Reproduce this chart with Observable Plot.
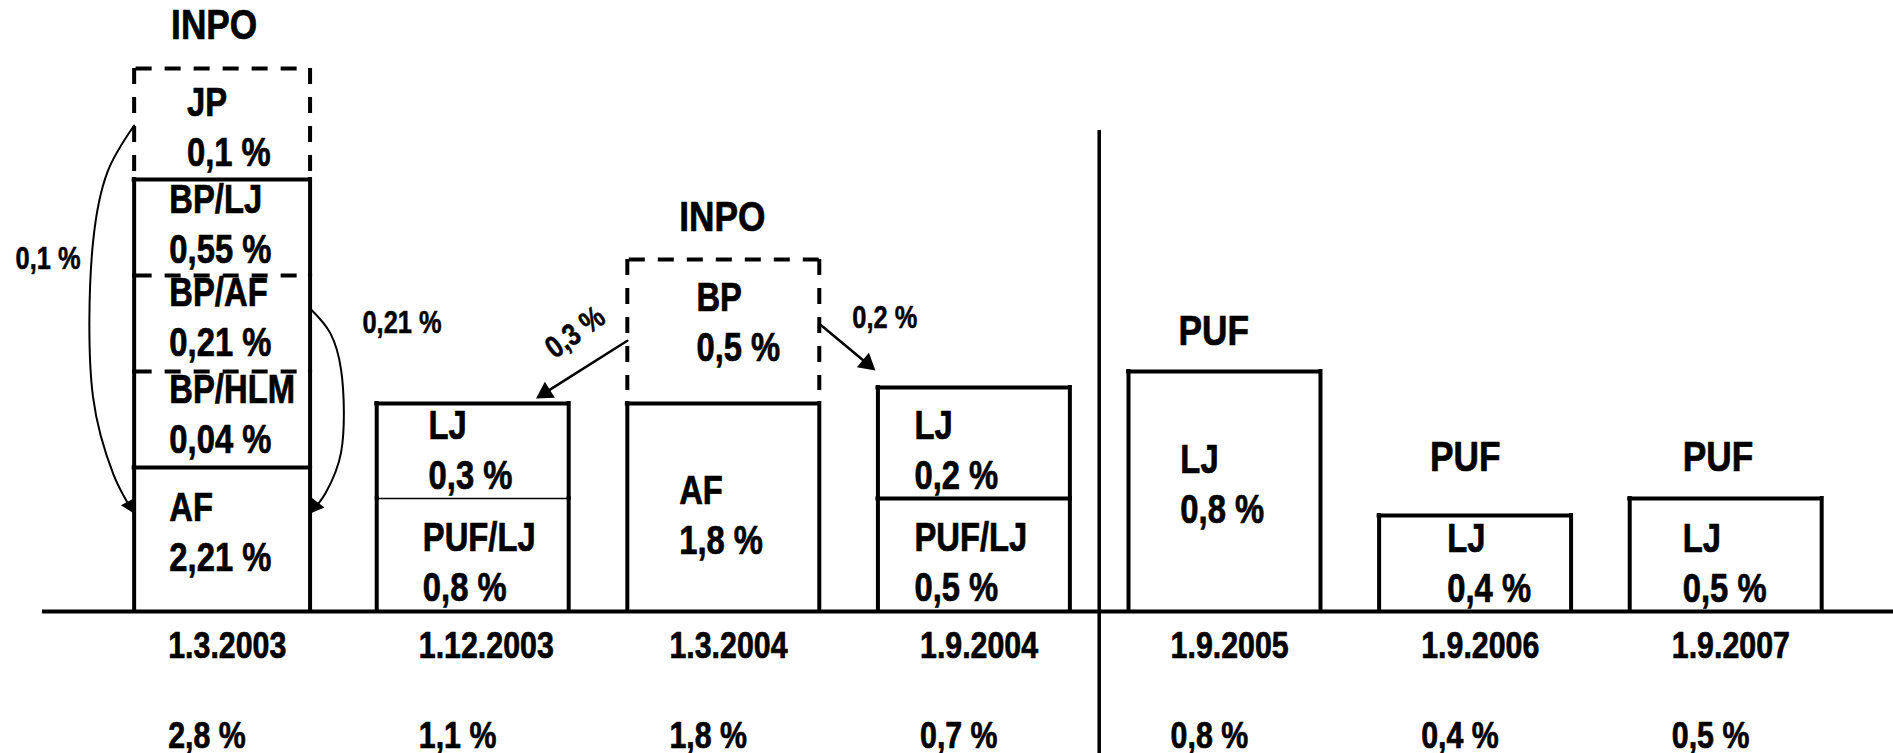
<!DOCTYPE html>
<html>
<head>
<meta charset="utf-8">
<script src="https://cdn.jsdelivr.net/npm/d3@7"></script>
<script src="https://cdn.jsdelivr.net/npm/@observablehq/plot@0.6"></script>
<style>
  html, body { margin: 0; padding: 0; background: #fff; }
  #chart svg { display: block; }
</style>
</head>
<body>
<div id="chart"></div>
<script>
// ---------------- data ----------------
const dates  = ["1.3.2003", "1.12.2003", "1.3.2004", "1.9.2004", "1.9.2005", "1.9.2006", "1.9.2007"];
const totals = [2.8, 1.1, 1.8, 0.7, 0.8, 0.4, 0.5];
const groups = ["INPO", "", "INPO", "", "PUF", "PUF", "PUF"];

const segDate  = ["1.3.2003", "1.3.2003", "1.3.2003", "1.3.2003", "1.3.2003",
                  "1.12.2003", "1.12.2003", "1.3.2004", "1.3.2004",
                  "1.9.2004", "1.9.2004", "1.9.2005", "1.9.2006", "1.9.2007"];
const segName  = ["AF", "BP/HLM", "BP/AF", "BP/LJ", "JP",
                  "PUF/LJ", "LJ", "AF", "BP",
                  "PUF/LJ", "LJ", "LJ", "LJ", "LJ"];
const segValue = [2.21, 0.04, 0.21, 0.55, 0.1,
                  0.8, 0.3, 1.8, 0.5,
                  0.5, 0.2, 0.8, 0.4, 0.5];

// transfers between components (indexes into the segment lists)
const flowSource = [4, 2, 8, 8];
const flowTarget = [0, 0, 6, 10];
const flowValue  = [0.1, 0.21, 0.3, 0.2];

// ---------------- schematic layout (the drawing is not proportional to the values) ----------------
const boxHalf     = [0.351, 0.383, 0.383, 0.383, 0.383, 0.383, 0.383];   // half box width, in category steps
const segLo       = [0, 144, 240, 336, 432, 0, 113, 0, 221, 0, 113, 0, 0, 0];      // drawing units above baseline
const segHi       = [144, 240, 336, 432, 543, 113, 208, 208, 352, 113, 224, 240, 96, 113];
const segSide     = ["solid", "solid", "solid", "solid", "dash", "solid", "solid", "solid", "dash", "solid", "solid", "solid", "solid", "solid"];
const segCap      = ["solid", "dash", "dash", "solid", "dash", "thin", "solid", "solid", "dash", "solid", "solid", "solid", "solid", "solid"];
const segIndent   = [0.2, 0.2, 0.2, 0.2, 0.3, 0.24, 0.27, 0.27, 0.36, 0.19, 0.19, 0.27, 0.355, 0.276];
const segTextBase = [41, 159, 256, 349, 446, 11, 123, 58, 251, 11, 123, 89, 10, 10];
const groupIndent = [0.21, 0, 0.27, 0, 0.26, 0.265, 0.276];
const groupGap    = [30, 0, 29, 0, 27, 45, 28];

const flowSide    = ["left", "right", "left", "right"];
const flowStartAt = [0.486, 0.656, 0.38, 0.51];
const flowEndX    = [0, 1, 0.83, -0.013];
const flowEndY    = [0.68, 0.68, 1.053, 1.153];
const flowBulge   = [0.164, 0.124, 0, 0];
const flowLabelX  = [-0.565, 0.56, 1.432, 2.515];
const flowLabelY  = [343, 279, 271, 284];
const flowLabelRotate = [0, 0, -36, 0];
const flowLabelAnchor = ["end", "start", "middle", "start"];

// ---------------- frame ----------------
const W = 1893, H = 753;
const mL = 42, mR = 0, mT = 0, mB = 142;
const xDom = [-0.7167, 6.6696];
const yDom = [0, 611];
const kx = (W - mL - mR) / (xDom[1] - xDom[0]);
const ky = (H - mT - mB) / (yDom[1] - yDom[0]);
const FONT = "'Liberation Sans', Arial, sans-serif";
const NARROW = 0.82;   // horizontal condensing (Arial Narrow look)

const pct = v => String(v).replace(".", ",") + " %";

// ---------------- derived geometry ----------------
const segments = segName.map((name, k) => {
  const i = dates.indexOf(segDate[k]);
  const hw = boxHalf[i];
  return {
    k, i, name, value: segValue[k],
    left: i - hw, right: i + hw, lo: segLo[k], hi: segHi[k],
    side: segSide[k], cap: segCap[k],
    tx: i - hw + 2 * hw * segIndent[k], ty: segTextBase[k],
    label: name + "\n" + pct(segValue[k])
  };
});
const sides = segments.flatMap(s => [
  {x: s.left, y1: s.lo, y2: s.hi, style: s.side},
  {x: s.right, y1: s.lo, y2: s.hi, style: s.side}
]);
const caps = segments.map(s => ({x1: s.left, x2: s.right, y: s.hi, style: s.cap}));

const boxTop = dates.map((d, i) => d3.max(segments.filter(s => s.i === i), s => s.hi));
const groupRows = dates.map((d, i) => ({
  text: groups[i],
  x: i - boxHalf[i] + 2 * boxHalf[i] * groupIndent[i],
  y: boxTop[i] + groupGap[i]
})).filter(g => g.text);

const flows = flowValue.map((v, f) => {
  const src = segments[flowSource[f]], dst = segments[flowTarget[f]];
  const x0 = flowSide[f] === "left" ? src.left : src.right;
  const y0 = src.lo + (src.hi - src.lo) * flowStartAt[f];
  const x1 = dst.left + (dst.right - dst.left) * flowEndX[f];
  const y1 = dst.lo + (dst.hi - dst.lo) * flowEndY[f];
  let pts;
  if (flowBulge[f] > 0) {
    const b = flowBulge[f] * (flowSide[f] === "left" ? -1 : 1), L = y0 - y1;
    pts = [[x0, y0], [x0 + 0.65 * b, y0 - 0.12 * L], [x0 + b, y0 - 0.3 * L],
           [x0 + b, y1 + 0.3 * L], [x0 + 0.5 * b, y1 + 0.1 * L], [x1, y1]];
  } else {
    pts = [[x0, y0], [x1, y1]];
  }
  const p = pts[pts.length - 2];
  const ang = Math.atan2(-(y1 - p[1]) * ky, (x1 - p[0]) * kx); // screen angle (radians)
  const r = flowBulge[f] > 0 ? 5.8 : 7;
  const back = 1.555 * r; // triangle tip distance from its centre
  const hx = x1 - back * Math.cos(ang) / kx;
  const hy = y1 + back * Math.sin(ang) / ky;
  if (flowBulge[f] === 0) pts[pts.length - 1] = [hx, hy];
  return {
    f, value: v, pts, head: {x: hx, y: hy, rotate: ang * 180 / Math.PI + 90, r},
    label: pct(v), lx: flowLabelX[f], ly: flowLabelY[f], rot: flowLabelRotate[f], anchor: flowLabelAnchor[f]
  };
});
const flowPts = flows.flatMap(fl => fl.pts.map(([x, y]) => ({f: fl.f, x, y, curved: flowBulge[fl.f] > 0})));

const sep = dates.indexOf("1.9.2005") - 0.5;

// ---------------- plot ----------------
const txt = {fill: "black", stroke: "black", strokeWidth: 0.7, fontWeight: "bold", fontFamily: FONT};
const dashArr = "16,13";

const chart = Plot.plot({
  width: W, height: H,
  marginLeft: mL, marginRight: mR, marginTop: mT, marginBottom: mB,
  x: {domain: xDom, axis: null},
  y: {domain: yDom, axis: null},
  r: {type: "identity"},
  style: {background: "white", fontFamily: FONT, overflow: "visible"},
  marks: [
    // box sides
    Plot.ruleX(sides.filter(d => d.style === "solid"), {x: "x", y1: "y1", y2: "y2", stroke: "black", strokeWidth: 4, strokeLinecap: "square"}),
    Plot.ruleX(sides.filter(d => d.style === "dash"), {x: "x", y1: "y2", y2: "y1", stroke: "black", strokeWidth: 4, strokeDasharray: dashArr}),
    // box tops / dividers
    Plot.ruleY(caps.filter(d => d.style === "solid"), {y: "y", x1: "x1", x2: "x2", stroke: "black", strokeWidth: 4, strokeLinecap: "square"}),
    Plot.ruleY(caps.filter(d => d.style === "thin"), {y: "y", x1: "x1", x2: "x2", stroke: "black", strokeWidth: 1.5}),
    Plot.ruleY(caps.filter(d => d.style === "dash"), {y: "y", x1: "x1", x2: "x2", stroke: "black", strokeWidth: 4, strokeDasharray: dashArr, strokeDashoffset: -2}),
    // baseline and separator
    Plot.ruleY([0], {stroke: "black", strokeWidth: 4}),
    Plot.ruleX([sep], {y1: 481, y2: -142, stroke: "black", strokeWidth: 3.5}),
    // flows
    Plot.line(flowPts.filter(d => d.curved), {x: "x", y: "y", z: "f", curve: "catmull-rom", stroke: "black", strokeWidth: 2}),
    Plot.line(flowPts.filter(d => !d.curved), {x: "x", y: "y", z: "f", stroke: "black", strokeWidth: 2.5}),
    Plot.dot(flows.map(f => f.head), {x: "x", y: "y", r: "r", rotate: "rotate", symbol: "triangle", fill: "black", stroke: "none"}),
    // segment labels
    Plot.text(segments, {x: "tx", y: "ty", text: "label", textAnchor: "start", lineAnchor: "bottom", lineHeight: 1.25, fontSize: 40, ...txt}),
    // group labels
    Plot.text(groupRows, {x: "x", y: "y", text: "text", textAnchor: "start", lineAnchor: "bottom", fontSize: 43, ...txt}),
    // flow labels
    ...["end", "start", "middle"].map(a => Plot.text(flows.filter(f => f.anchor === a), {
      x: "lx", y: "ly", text: "label", rotate: "rot", textAnchor: a,
      lineAnchor: a === "middle" ? "middle" : "bottom", fontSize: 31, ...txt, strokeWidth: 0.5
    })),
    // dates and totals below the axis
    Plot.text(dates, {x: (d, i) => i - 0.215, y: () => -46, text: d => d, textAnchor: "start", lineAnchor: "bottom", fontSize: 37, ...txt}),
    Plot.text(totals, {x: (d, i) => i - 0.215, y: () => -136, text: d => pct(d), textAnchor: "start", lineAnchor: "bottom", fontSize: 37, ...txt})
  ]
});

// condense every label horizontally around its anchor (no narrow face is installed)
chart.querySelectorAll("text").forEach(t => {
  const x = t.getAttribute("x"), y = t.getAttribute("y");
  let tr = t.getAttribute("transform") || "";
  if (x != null || y != null) {
    tr = `translate(${+x || 0},${+y || 0}) ` + tr;
    t.removeAttribute("x"); t.removeAttribute("y");
  }
  t.setAttribute("transform", `${tr} scale(${NARROW},1)`);
});
document.getElementById("chart").appendChild(chart);
</script>
</body>
</html>
